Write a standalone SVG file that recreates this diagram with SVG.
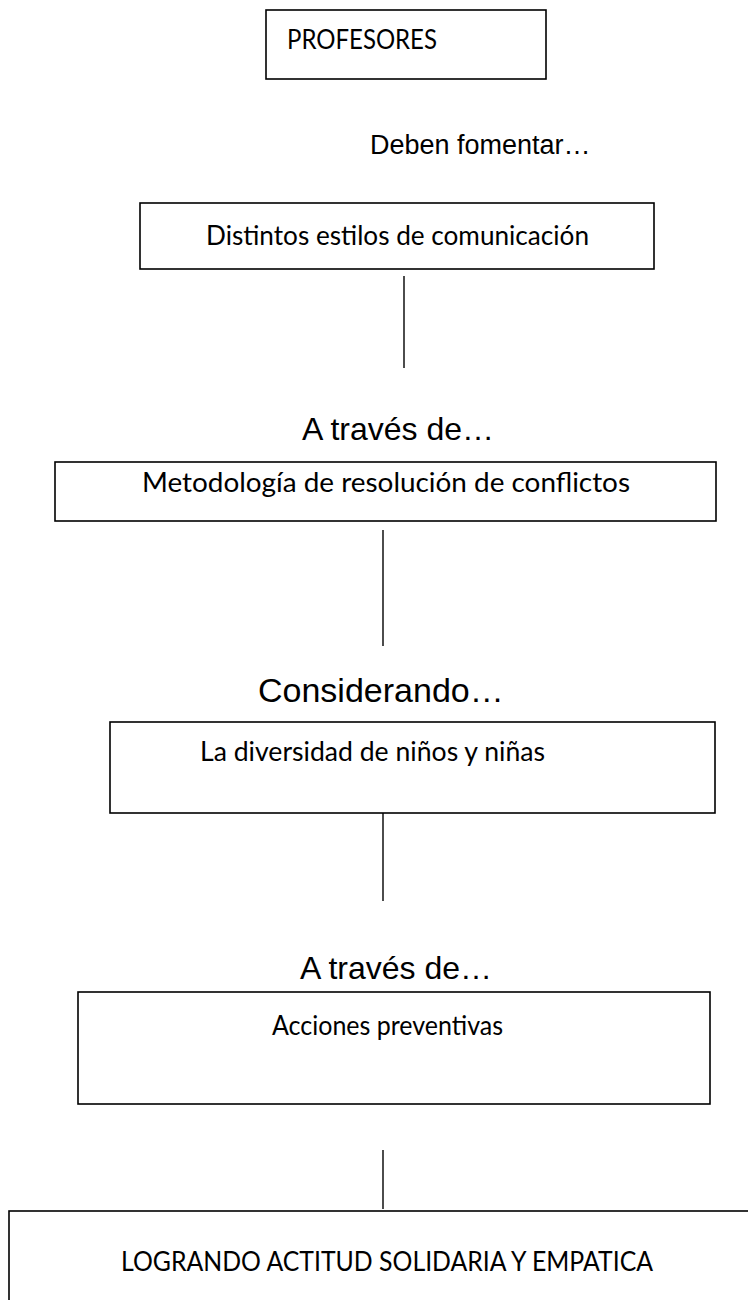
<svg xmlns="http://www.w3.org/2000/svg" width="748" height="1300" viewBox="0 0 748 1300">
<style>
.box{fill:#fff;stroke:#000;stroke-width:1.6}
.bt{font-family:Lato,"Open Sans","Liberation Sans",sans-serif;font-size:27px;fill:#000}
.lb{font-family:"Liberation Sans",Arial,sans-serif;fill:#000}
.ln{stroke:#000;stroke-width:1.4;fill:none}
</style>
<rect width="748" height="1300" fill="#fff"/>
<g id="connectors">
<line class="ln" x1="404" y1="276" x2="404" y2="368"/>
<line class="ln" x1="383" y1="530" x2="383" y2="646"/>
<line class="ln" x1="383" y1="813" x2="383" y2="901"/>
<line class="ln" x1="383" y1="1150" x2="383" y2="1209"/>
</g>
<g id="n1"><rect class="box" x="266" y="10" width="280" height="69"/><text class="bt" x="287" y="49" textLength="150" lengthAdjust="spacingAndGlyphs">PROFESORES</text></g>
<g id="l1"><text class="lb" x="370" y="154" font-size="27">Deben fomentar…</text></g>
<g id="n2"><rect class="box" x="140" y="203" width="514" height="66"/><text class="bt" x="206" y="245" textLength="383" lengthAdjust="spacingAndGlyphs">Distintos estilos de comunicación</text></g>
<g id="l2"><text class="lb" x="302" y="440" font-size="32">A través de…</text></g>
<g id="n3"><rect class="box" x="55" y="462" width="661" height="59"/><text class="bt" x="142" y="492" textLength="488" lengthAdjust="spacingAndGlyphs">Metodología de resolución de conflictos</text></g>
<g id="l3"><text class="lb" x="258" y="702" font-size="34">Considerando…</text></g>
<g id="n4"><rect class="box" x="110" y="722" width="605" height="91"/><text class="bt" x="200" y="761" textLength="345" lengthAdjust="spacingAndGlyphs">La diversidad de niños y niñas</text></g>
<g id="l4"><text class="lb" x="300" y="979" font-size="32">A través de…</text></g>
<g id="n5"><rect class="box" x="78" y="992" width="632" height="112"/><text class="bt" x="272" y="1035" textLength="231" lengthAdjust="spacingAndGlyphs">Acciones preventivas</text></g>
<g id="n6"><rect class="box" x="9" y="1211" width="780" height="120"/><text class="bt" x="121" y="1271" textLength="532" lengthAdjust="spacingAndGlyphs">LOGRANDO ACTITUD SOLIDARIA Y EMPATICA</text></g>
</svg>
